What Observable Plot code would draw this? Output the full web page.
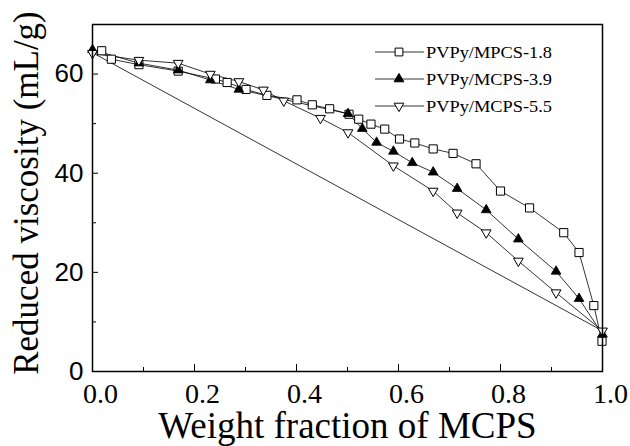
<!DOCTYPE html>
<html><head><meta charset="utf-8">
<script src="https://cdn.jsdelivr.net/npm/d3@7"></script>
<script src="https://cdn.jsdelivr.net/npm/@observablehq/plot@0.6"></script>
<style>body{margin:0;background:#fff}#chart svg{display:block}</style>
</head><body><div id="chart"></div>
<script>
const seriesNames = ["PVPy/MPCS-1.8", "PVPy/MCPS-3.9", "PVPy/MCPS-5.5"];
// PVPy/MPCS-1.8 (open squares)
const xSq = [0.018,0.037,0.091,0.168,0.241,0.264,0.301,0.342,0.401,0.431,0.465,0.503,0.522,0.546,0.573,0.602,0.632,0.668,0.707,0.752,0.800,0.857,0.924,0.954,0.983,0.999];
const ySq = [64.7,63.0,61.9,60.6,59.0,58.3,56.9,55.7,54.8,53.8,53.0,51.9,50.9,49.9,48.9,46.9,46.1,44.9,44.0,41.9,36.4,33.0,28.0,24.0,13.3,6.1];
// PVPy/MCPS-3.9 (filled up triangles)
const xUp = [0,0.091,0.168,0.231,0.287,0.501,0.529,0.557,0.590,0.627,0.668,0.715,0.772,0.835,0.909,0.954,1.0];
const yUp = [64.9,62.2,60.8,58.8,56.9,52.0,49.0,46.2,44.4,42.1,40.2,36.9,32.6,26.7,20.2,14.7,7.5];
// PVPy/MCPS-5.5 (open down triangles)
const xDn = [0,0.091,0.168,0.231,0.287,0.335,0.375,0.447,0.501,0.590,0.668,0.715,0.772,0.835,0.909,1.0];
const yDn = [64.2,62.8,62.2,60.0,58.5,56.8,54.6,51.1,48.2,41.5,36.4,32.0,28.0,22.3,15.9,8.2];
// additivity reference line
const xRef = [0, 1.0];
const yRef = [64.3, 8.2];
const xMajor = [0, 0.2, 0.4, 0.6, 0.8, 1.0];
const xMinor = [0.1, 0.3, 0.5, 0.7, 0.9];
const yMajor = [0, 20, 40, 60];
const yMinor = [10, 30, 50];
const xTitle = "Weight fraction of MCPS";
const yTitle = "Reduced viscosity (mL/g)";

const toRows = (xs, ys) => xs.map((x, i) => ({x, y: ys[i]}));
const sq = toRows(xSq, ySq), up = toRows(xUp, yUp), dn = toRows(xDn, yDn), ref = toRows(xRef, yRef);
const serif = "'Liberation Serif', 'Times New Roman', serif";
const narrow = "'Liberation Sans Narrow', 'Arial Narrow', 'Liberation Sans', sans-serif";
const lineOpts = {x: "x", y: "y", stroke: "black", strokeWidth: 0.8};

const chart = Plot.plot({
  width: 630, height: 446,
  marginLeft: 92, marginRight: 28, marginTop: 24, marginBottom: 75,
  style: {color: "black", background: "white", overflow: "visible"},
  x: {domain: [0, 1]},
  y: {domain: [0, 70]},
  marks: [
    Plot.line(ref, lineOpts),
    Plot.line(sq, lineOpts),
    Plot.line(up, lineOpts),
    Plot.line(dn, lineOpts),
    Plot.dot(sq, {x: "x", y: "y", symbol: "square", r: 4.6, fill: "white", stroke: "black", strokeWidth: 1}),
    Plot.dot(up, {x: "x", y: "y", symbol: "triangle", r: 3.6, fill: "black", stroke: "black", strokeWidth: 0.8}),
    Plot.dot(dn, {x: "x", y: "y", symbol: "triangle", rotate: 180, r: 3.6, fill: "white", stroke: "black", strokeWidth: 1}),
    Plot.frame({stroke: "black", strokeWidth: 1.5}),
    Plot.axisX({ticks: xMinor, tickSize: -4, text: null, label: null}),
    Plot.axisX({ticks: xMajor, tickSize: -7, text: null, label: null}),
    Plot.axisX({ticks: xMajor, tickSize: 0, tickPadding: 12, dx: 8, tickFormat: d3.format(".1f"), fontSize: 28, fontFamily: serif, label: null}),
    Plot.axisY({ticks: yMinor, tickSize: -4, text: null, label: null}),
    Plot.axisY({ticks: yMajor, tickSize: -6, text: null, label: null}),
    Plot.axisY({ticks: yMajor, tickSize: 0, tickPadding: 9, fontSize: 26, fontFamily: narrow, label: null}),
    Plot.text([xTitle], {text: d => d, frameAnchor: "bottom", textAnchor: "middle", lineAnchor: "middle", dy: 55, fontSize: 37, fontFamily: serif, fill: "black"}),
    Plot.text([yTitle], {text: d => d, frameAnchor: "left", textAnchor: "middle", lineAnchor: "middle", rotate: -90, dx: -66, dy: -5, fontSize: 35, fontFamily: serif, fill: "black"})
  ]
});
document.getElementById("chart").append(chart);

// legend (top right, inside the frame)
const svg = d3.select(chart);
const lg = svg.append("g").attr("class", "legend").attr("text-anchor", "start");
const rowsY = [52, 79, 106];
const markers = [
  d3.symbol(d3.symbolSquare, 4.4 * 4.4 * Math.PI),
  d3.symbol(d3.symbolTriangle, 3.6 * 3.6 * Math.PI),
  d3.symbol(d3.symbolTriangle, 3.6 * 3.6 * Math.PI)
];
seriesNames.forEach((name, i) => {
  const y = rowsY[i];
  lg.append("line").attr("x1", 375).attr("x2", 424).attr("y1", y).attr("y2", y).attr("stroke", "black").attr("stroke-width", 0.8);
  lg.append("path").attr("d", markers[i]())
    .attr("transform", `translate(399,${y})` + (i === 2 ? " rotate(180)" : ""))
    .attr("fill", i === 1 ? "black" : "white").attr("stroke", "black").attr("stroke-width", 1);
  lg.append("text").attr("x", 426).attr("y", y + 6).text(name)
    .attr("text-anchor", "start")
    .attr("font-family", serif).attr("font-size", 17.5)
    .attr("textLength", 126).attr("lengthAdjust", "spacingAndGlyphs").attr("fill", "black");
});
</script></body></html>
